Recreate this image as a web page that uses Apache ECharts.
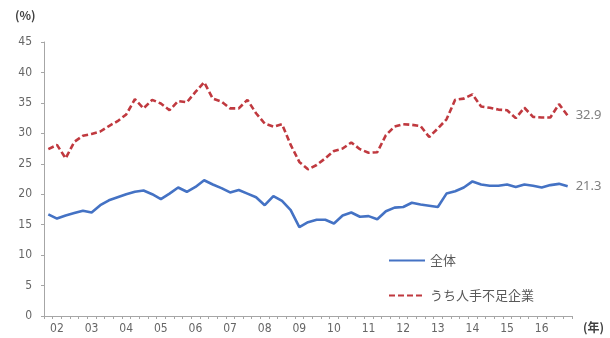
<!DOCTYPE html>
<html>
<head>
<meta charset="utf-8">
<script src="https://cdn.jsdelivr.net/npm/echarts@6/dist/echarts.min.js"></script>
<style>
  html, body { margin: 0; padding: 0; background: #fff; }
  #chart { width: 610px; height: 338px; }
</style>
</head>
<body>
<div id="chart"></div>
<script>
// Quarterly observations, 2002 Q1 through 2017 Q1
const years = ['02','03','04','05','06','07','08','09','10','11','12','13','14','15','16','17'];
const quarters = ['Q1','Q2','Q3','Q4'];

// 全体
const totalValues = [
  16.7, 16.0, 16.5, 16.9, 17.3, 17.0, 18.2, 19.0, 19.5, 20.0,
  20.4, 20.6, 20.0, 19.2, 20.1, 21.1, 20.4, 21.2, 22.3, 21.6,
  21.0, 20.3, 20.7, 20.1, 19.5, 18.2, 19.7, 18.9, 17.4, 14.6,
  15.4, 15.8, 15.8, 15.2, 16.5, 17.0, 16.3, 16.4, 15.9, 17.2,
  17.8, 17.9, 18.6, 18.3, 18.1, 17.9, 20.1, 20.5, 21.1, 22.1,
  21.6, 21.4, 21.4, 21.6, 21.2, 21.6, 21.4, 21.1, 21.5, 21.7,
  21.3
];

// うち人手不足企業
const shortageValues = [
  27.4, 28.1, 25.9, 28.6, 29.6, 29.9, 30.3, 31.2, 32.0, 33.1,
  35.6, 34.1, 35.5, 34.9, 33.8, 35.3, 35.1, 36.8, 38.4, 35.7,
  35.2, 34.1, 34.1, 35.5, 33.3, 31.6, 31.1, 31.5, 28.1, 25.3,
  24.1, 24.8, 25.9, 27.1, 27.5, 28.5, 27.4, 26.8, 26.9, 29.7,
  31.1, 31.5, 31.4, 31.2, 29.4, 30.8, 32.3, 35.5, 35.7, 36.4,
  34.4, 34.2, 33.9, 33.8, 32.5, 34.2, 32.7, 32.6, 32.6, 34.8,
  32.9
];

// Year labels shown under the axis
const yearLabels = ['02','03','04','05','06','07','08','09','10','11','12','13','14','15','16'];

const categories = [];
years.forEach(y => quarters.forEach(q => categories.push(y + q)));
categories.length = totalValues.length;

const textColor = '#666666';
const axisColor = '#a6a6a6';
const jpFont = '"Noto Sans CJK JP", "Noto Sans", sans-serif';
const numFont = '"DejaVu Sans Condensed", "Liberation Sans Narrow", sans-serif';

const chart = echarts.init(document.getElementById('chart'), null, { renderer: 'canvas' });

const endLabel = {
  show: true,
  formatter: (p) => p.value.toFixed(1),
  color: '#7f7f7f',
  fontSize: 13,
  distance: 8,
  fontFamily: '"Noto Sans", sans-serif'
};

chart.setOption({
  animation: false,
  backgroundColor: '#ffffff',
  textStyle: { fontFamily: jpFont },
  grid: { left: 44, right: 38, top: 42, bottom: 22, containLabel: false },
  graphic: [
    {
      type: 'text', left: 15, top: 9,
      style: { text: '(%)', fill: '#404040', font: 'bold 12px "Noto Sans CJK JP", serif' }
    },
    {
      type: 'text', left: 583, top: 321,
      style: { text: '(年)', fill: '#404040', font: 'bold 12px "Noto Sans CJK JP", serif' }
    }
  ],
  legend: {
    orient: 'vertical',
    left: 383,
    top: 249,
    itemWidth: 36,
    itemHeight: 14,
    itemGap: 22,
    itemStyle: { opacity: 0 },
    textStyle: { color: '#595959', fontSize: 13, fontFamily: jpFont },
    data: ['全体', 'うち人手不足企業']
  },
  xAxis: {
    type: 'category',
    data: categories,
    boundaryGap: true,
    axisLine: { lineStyle: { color: axisColor, width: 1 } },
    axisTick: { show: true, interval: 0, length: 3, lineStyle: { color: axisColor } },
    axisLabel: {
      interval: (i) => i % 4 === 1 && yearLabels.includes(categories[i].slice(0, 2)),
      formatter: (v) => v.slice(0, 2),
      color: textColor,
      fontSize: 12,
      margin: 7,
      fontFamily: numFont
    },
    splitLine: { show: false }
  },
  yAxis: {
    type: 'value',
    min: 0,
    max: 45,
    interval: 5,
    axisLine: { show: true, lineStyle: { color: axisColor, width: 1 } },
    axisTick: { show: true, length: 3, lineStyle: { color: axisColor } },
    axisLabel: { color: textColor, fontSize: 12, margin: 12, fontFamily: numFont },
    splitLine: { show: false }
  },
  series: [
    {
      name: '全体',
      type: 'line',
      data: totalValues,
      symbol: 'none',
      lineStyle: { color: '#4472c4', width: 2.6 },
      itemStyle: { color: '#4472c4' },
      endLabel: endLabel
    },
    {
      name: 'うち人手不足企業',
      type: 'line',
      data: shortageValues,
      symbol: 'none',
      lineStyle: { color: '#c0393f', width: 2.6, type: [6, 3] },
      itemStyle: { color: '#c0393f' },
      endLabel: endLabel
    }
  ]
});
</script>
</body>
</html>
